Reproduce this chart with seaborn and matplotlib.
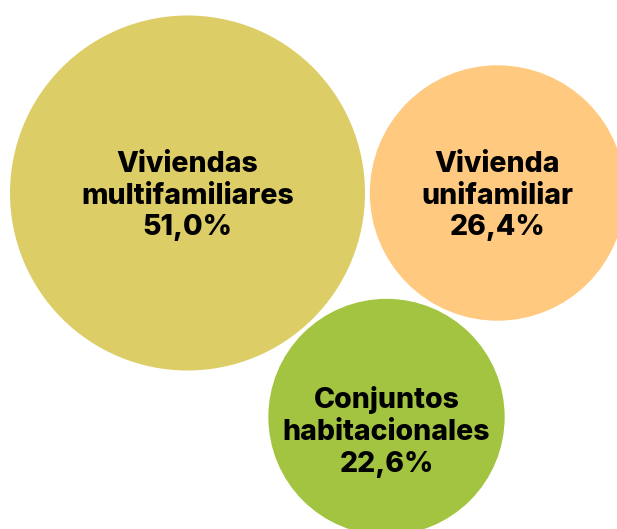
import seaborn as sns
import matplotlib.pyplot as plt
from matplotlib.patches import Circle
import numpy as np

categories = ["Viviendas\nmultifamiliares", "Vivienda\nunifamiliar", "Conjuntos\nhabitacionales"]
shares = [51.0, 26.4, 22.6]
colors = ["#DDCD66", "#FFCA80", "#A3C440"]

# bubble layout (pixels, y from the top)
cx = [187.5, 497.5, 386.5]
cy = [193, 193, 417]
label_dy = [3, 3, 15]
r_max = 177.5

sns.set_theme(style="white")
plt.rcParams["font.family"] = ["Inter", "DejaVu Sans"]

fig = plt.figure(figsize=(6.17, 5.29), dpi=100)
ax = fig.add_axes([0, 0, 1, 1])
ax.set_xlim(0, 617)
ax.set_ylim(529, 0)
ax.set_aspect("equal")
ax.axis("off")

radii = r_max * np.sqrt(np.array(shares) / max(shares))
for cat, val, col, x, y, r, dy in zip(categories, shares, colors, cx, cy, radii, label_dy):
    ax.add_patch(Circle((x, y), r, color=col, lw=0))
    label = f"{cat}\n{val:.1f}%".replace(".", ",")
    ax.text(x, y + dy, label, ha="center", va="center", fontsize=20.5,
            fontweight="heavy", color="black", linespacing=1.22)

fig.savefig("out.png", dpi=100)
